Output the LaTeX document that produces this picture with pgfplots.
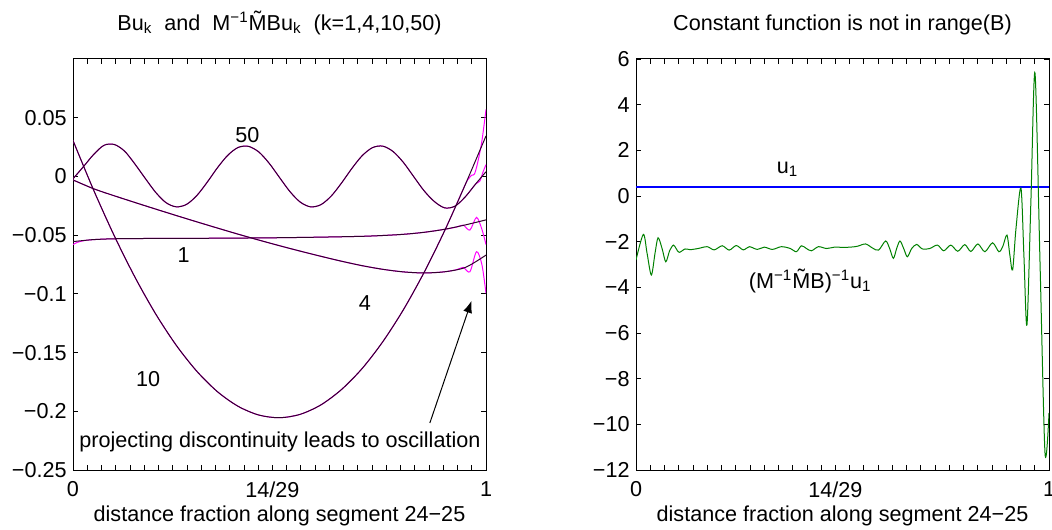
\documentclass[border=0pt]{standalone}
\usepackage{fontspec}
\setmainfont{Liberation Sans}
\usepackage{pgfplots}
\pgfplotsset{compat=1.18}
\usetikzlibrary{arrows.meta}
\definecolor{dpurp}{RGB}{50,0,45}
\definecolor{mgreen}{RGB}{0,128,0}
\definecolor{ublue}{RGB}{0,0,255}
\definecolor{mmag}{RGB}{255,0,255}
\newcommand\Mt{{\ooalign{M\cr\hidewidth\raisebox{0.17em}{\char"02DC}\hidewidth\cr}}}
\pgfplotsset{
 myax/.style={
  scale only axis, width=206.5pt, height=205.5pt,
  anchor=south west,
  font=\fontsize{10.8}{13}\selectfont,
  axis line style={line width=0.5pt},
  every tick/.style={black, line width=0.4pt},
  major tick length=2.5pt, minor tick length=2.5pt,
  tick align=inside,
  xmin=0, xmax=1,
  xtick={0,0.4827586,1}, xticklabels={0,14/29,1},
  minor xtick={0.0344828,0.0689655,0.1034483,0.137931,0.1724138,0.2068966,0.2413793,0.2758621,0.3103448,0.3448276,0.3793103,0.4137931,0.4482759,0.5172414,0.5517241,0.5862069,0.6206897,0.6551724,0.6896552,0.7241379,0.7586207,0.7931034,0.8275862,0.862069,0.8965517,0.9310345,0.9655172},
  xticklabel style={anchor=north, inner sep=0pt, yshift=-5.5pt},
  yticklabel style={anchor=east, inner sep=0pt, xshift=-3pt},
  xlabel={distance fraction along segment 24−25},
  xlabel style={at={(axis description cs:0.5,0)}, anchor=base, inner sep=0pt, yshift=-25.5pt},
  title style={at={(axis description cs:0.5,1)}, anchor=south, inner sep=0pt, yshift=6pt},
 }
}
\begin{document}
\begin{tikzpicture}[x=1pt,y=1pt]
\useasboundingbox (0,0) rectangle (526,264.5);
% ---------------- left axis ----------------
\begin{axis}[myax, at={(36.5pt,29.5pt)},
  ymin=-0.25, ymax=0.1,
  ytick={-0.25,-0.2,-0.15,-0.1,-0.05,0,0.05},
  yticklabels={−0.25,−0.2,−0.15,−0.1,−0.05,0,0.05},
  title={Bu\textsubscript{k}\ \ and\ \ M\textsuperscript{−1}\Mt Bu\textsubscript{k}\ \ (k=1,4,10,50)},
]
% magenta (M^-1 Mtilde B u_k)
\addplot[mmag, line width=0.5pt, smooth] coordinates {
(0,-0.002)(0.025,0.0082)(0.05,0.0187)(0.075,0.0265)(0.1,0.0272)(0.125,0.0215)(0.15,0.0105)(0.175,-0.0017)(0.2,-0.0135)(0.225,-0.0223)(0.25,-0.0259)(0.275,-0.0238)(0.3,-0.0162)(0.325,-0.0049)(0.35,0.0075)(0.375,0.0181)(0.4,0.0247)(0.425,0.0256)(0.45,0.0208)(0.475,0.0112)(0.5,-0.0009)(0.525,-0.0128)(0.55,-0.0218)(0.575,-0.0259)(0.6,-0.0241)(0.625,-0.0168)(0.65,-0.0057)(0.675,0.0067)(0.7,0.0176)(0.725,0.0245)(0.75,0.0258)(0.775,0.0212)(0.8,0.0119)(0.825,-0.0002)(0.85,-0.0122)(0.875,-0.0214)(0.9,-0.0268)(0.925,-0.0253)(0.95,-0.0173)(0.975,-0.0064)(0.985,-0.004)(0.993,0.004)(1,0.010)};
\addplot[mmag, line width=0.5pt, smooth] coordinates {
(0,0.0306)(0.05,-0.0117)(0.1,-0.0506)(0.15,-0.0858)(0.2,-0.117)(0.25,-0.1438)(0.3,-0.166)(0.35,-0.1834)(0.4,-0.1958)(0.45,-0.2032)(0.5,-0.2055)(0.55,-0.2026)(0.6,-0.1946)(0.65,-0.1815)(0.7,-0.1636)(0.75,-0.1408)(0.8,-0.1135)(0.85,-0.0818)(0.9,-0.0461)(0.95,-0.0068)(0.958,-0.002)(0.965,0.001)(0.972,0.002)(0.98,0.012)(0.99,0.030)(1,0.057)};
\addplot[mmag, line width=0.5pt, smooth] coordinates {
(0,-0.058)(0.01,-0.0562)(0.025,-0.0548)(0.05,-0.0538)(0.1,-0.0531)(0.2,-0.0528)(0.3,-0.0527)(0.4,-0.0525)(0.5,-0.0522)(0.6,-0.0517)(0.7,-0.0510)(0.75,-0.0503)(0.8,-0.0493)(0.85,-0.0476)(0.9,-0.0450)(0.93,-0.0430)(0.945,-0.0415)(0.961,-0.0457)(0.977,-0.0349)(0.99,-0.045)(1,-0.058)};
\addplot[mmag, line width=0.5pt, smooth] coordinates {
(0,-0.003)(0.05,-0.0105)(0.1,-0.0165)(0.15,-0.0222)(0.2,-0.0278)(0.25,-0.0333)(0.3,-0.0387)(0.35,-0.0440)(0.4,-0.0492)(0.45,-0.0542)(0.5,-0.0590)(0.55,-0.0636)(0.6,-0.0680)(0.65,-0.0722)(0.7,-0.0760)(0.75,-0.0791)(0.8,-0.0813)(0.85,-0.0822)(0.9,-0.0812)(0.93,-0.0793)(0.945,-0.0775)(0.961,-0.0812)(0.977,-0.0641)(0.99,-0.075)(1,-0.0996)};
% dark (B u_k)
\addplot[dpurp, line width=0.5pt, smooth] coordinates {
(0,-0.002)(0.025,0.0082)(0.05,0.0187)(0.075,0.0265)(0.1,0.0272)(0.125,0.0215)(0.15,0.0105)(0.175,-0.0017)(0.2,-0.0135)(0.225,-0.0223)(0.25,-0.0259)(0.275,-0.0238)(0.3,-0.0162)(0.325,-0.0049)(0.35,0.0075)(0.375,0.0181)(0.4,0.0247)(0.425,0.0256)(0.45,0.0208)(0.475,0.0112)(0.5,-0.0009)(0.525,-0.0128)(0.55,-0.0218)(0.575,-0.0259)(0.6,-0.0241)(0.625,-0.0168)(0.65,-0.0057)(0.675,0.0067)(0.7,0.0176)(0.725,0.0245)(0.75,0.0258)(0.775,0.0212)(0.8,0.0119)(0.825,-0.0002)(0.85,-0.0122)(0.875,-0.0214)(0.9,-0.0268)(0.925,-0.0253)(0.95,-0.0173)(0.975,-0.0064)(1,0.0040)};
\addplot[dpurp, line width=0.5pt, smooth] coordinates {
(0,0.0306)(0.05,-0.0117)(0.1,-0.0506)(0.15,-0.0858)(0.2,-0.117)(0.25,-0.1438)(0.3,-0.166)(0.35,-0.1834)(0.4,-0.1958)(0.45,-0.2032)(0.5,-0.2055)(0.55,-0.2026)(0.6,-0.1946)(0.65,-0.1815)(0.7,-0.1636)(0.75,-0.1408)(0.8,-0.1135)(0.85,-0.0818)(0.9,-0.0461)(0.95,-0.0068)(1,0.0345)};
\addplot[dpurp, line width=0.5pt, smooth] coordinates {
(0,-0.0555)(0.025,-0.0546)(0.05,-0.0538)(0.1,-0.0531)(0.2,-0.0528)(0.3,-0.0527)(0.4,-0.0525)(0.5,-0.0522)(0.6,-0.0517)(0.7,-0.0510)(0.75,-0.0503)(0.8,-0.0493)(0.85,-0.0476)(0.9,-0.0450)(0.95,-0.0413)(1,-0.0370)};
\addplot[dpurp, line width=0.5pt, smooth] coordinates {
(0,-0.003)(0.05,-0.0105)(0.1,-0.0165)(0.15,-0.0222)(0.2,-0.0278)(0.25,-0.0333)(0.3,-0.0387)(0.35,-0.0440)(0.4,-0.0492)(0.45,-0.0542)(0.5,-0.0590)(0.55,-0.0636)(0.6,-0.0680)(0.65,-0.0722)(0.7,-0.0760)(0.75,-0.0791)(0.8,-0.0813)(0.85,-0.0822)(0.9,-0.0812)(0.95,-0.0775)(1,-0.0670)};
\node[anchor=base, inner sep=0pt] at (axis cs:0.4225,0.0285) {50};
\node[anchor=base, inner sep=0pt] at (axis cs:0.2676,-0.0729) {1};
\node[anchor=base, inner sep=0pt] at (axis cs:0.707,-0.1138) {4};
\node[anchor=base, inner sep=0pt] at (axis cs:0.182,-0.1785) {10};
\node[anchor=base, inner sep=0pt] at (axis cs:0.501,-0.2305) {projecting discontinuity leads to oscillation};
\draw[line width=0.5pt, -{Latex[length=6pt,width=4.5pt]}] (axis cs:0.864,-0.210) -- (axis cs:0.965,-0.1059);
\end{axis}
% ---------------- right axis ----------------
\begin{axis}[myax, at={(318pt,29.5pt)},
  ymin=-12, ymax=6,
  ytick={-12,-10,-8,-6,-4,-2,0,2,4,6},
  yticklabels={−12,−10,−8,−6,−4,−2,0,2,4,6},
  title={Constant function is not in range(B)},
]
\addplot[color=ublue, line width=0.6pt] coordinates {(0,0.39)(0.5,0.39)(1,0.39)};
\addplot[mgreen, line width=0.5pt, smooth] coordinates {
(0,-2.8)(0.0177,-1.68)(0.0267,-2.5)(0.0371,-3.46)(0.0461,-2.5)(0.0534,-1.83)(0.0631,-2.3)(0.0721,-2.88)(0.0813,-2.4)(0.0905,-2.15)(0.0971,-2.3)(0.1044,-2.47)(0.1189,-2.32)
(0.1311,-2.35)(0.1505,-2.30)(0.1723,-2.22)(0.1893,-2.36)(0.2087,-2.18)(0.2257,-2.37)(0.2427,-2.17)(0.2597,-2.36)(0.2743,-2.22)(0.2937,-2.34)(0.3107,-2.24)(0.3301,-2.34)(0.3519,-2.22)(0.3738,-2.30)(0.3883,-2.44)(0.4005,-2.18)(0.4126,-2.30)(0.4248,-2.40)(0.4417,-2.22)(0.4612,-2.30)(0.4806,-2.24)(0.5,-2.25)(0.5194,-2.24)(0.5364,-2.20)(0.5558,-2.10)(0.5728,-2.28)(0.5874,-2.37)(0.6044,-1.97)(0.6141,-2.3)(0.6231,-2.73)(0.6311,-2.3)(0.6391,-1.97)(0.6481,-2.3)(0.6570,-2.66)(0.6675,-2.3)(0.6796,-2.12)(0.6934,-2.32)(0.7112,-2.30)(0.7299,-2.15)(0.7451,-2.40)(0.7621,-2.15)(0.7791,-2.42)(0.7961,-2.13)(0.8107,-2.43)(0.8277,-2.10)(0.8447,-2.44)(0.8633,-2.05)(0.8786,-2.44)(0.8883,-2.2)(0.8981,-1.71)(0.9053,-2.6)(0.9119,-3.24)(0.9199,-1.45)(0.9320,0.35)(0.9393,-2.65)(0.9466,-5.65)(0.9563,-0.13)(0.9660,5.39)(0.9782,-2.9)(0.9903,-11.26)(1,-9.5)};
\node[anchor=base, inner sep=0pt] at (axis cs:0.367,1.0) {u\textsubscript{1}};
\node[anchor=base, inner sep=0pt] at (axis cs:0.422,-4.03) {(M\textsuperscript{−1}\Mt B)\textsuperscript{−1}u\textsubscript{1}};
\end{axis}
\end{tikzpicture}
\end{document}
